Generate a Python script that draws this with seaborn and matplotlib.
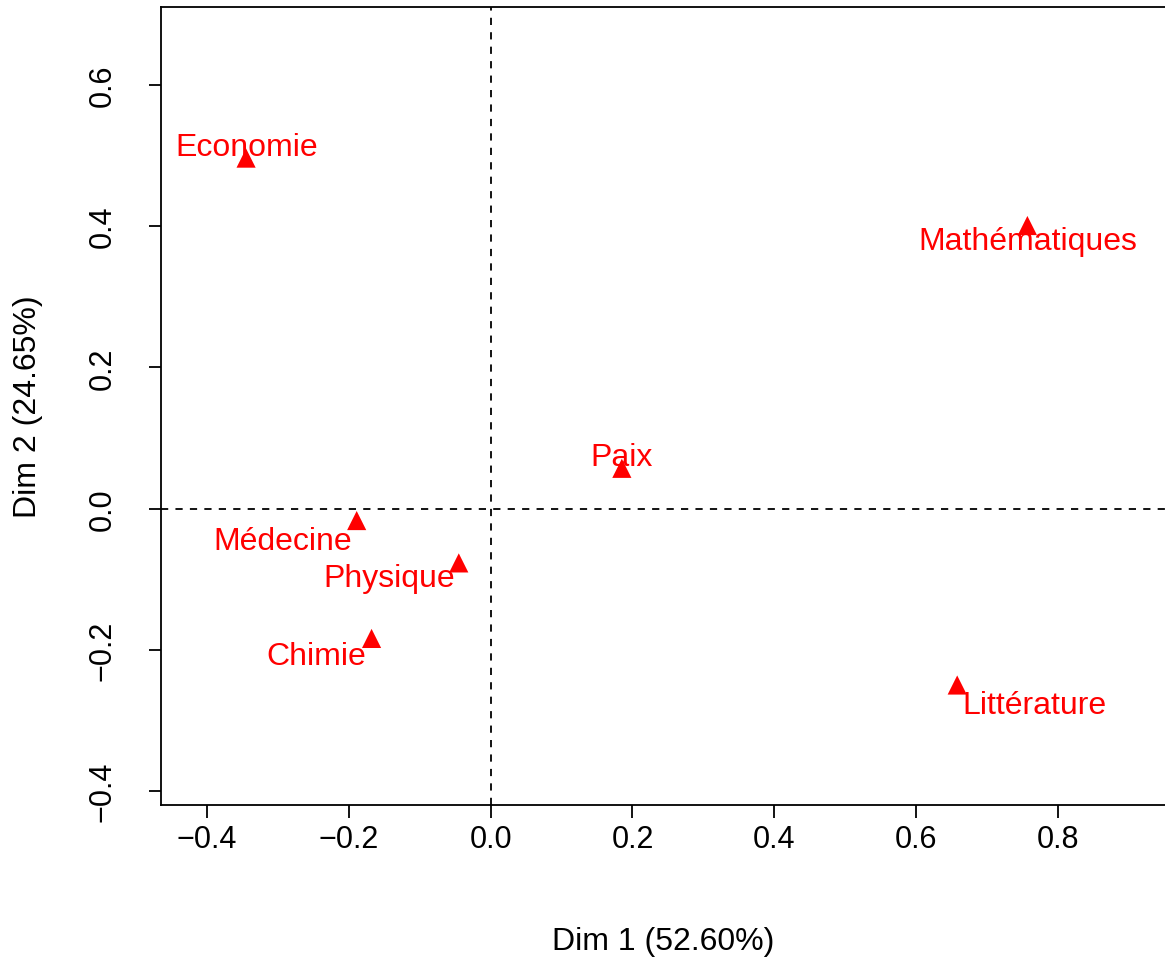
import matplotlib
matplotlib.use("Agg")
import matplotlib.pyplot as plt
import seaborn as sns
import pandas as pd

categories = ["Economie", "Mathématiques", "Paix", "Médecine", "Physique", "Chimie", "Littérature"]
dim1 = [-0.345, 0.757, 0.185, -0.189, -0.045, -0.168, 0.658]
dim2 = [0.4965, 0.401, 0.057, -0.017, -0.077, -0.184, -0.250]
x_ticks = [-0.4, -0.2, 0.0, 0.2, 0.4, 0.6, 0.8]
y_ticks = [-0.4, -0.2, 0.0, 0.2, 0.4, 0.6]
x_label = "Dim 1 (52.60%)"
y_label = "Dim 2 (24.65%)"

# label offsets (pixels) relative to the point
label_offsets = [(1, 11), (0, -15), (0, 11), (-74, -20), (-70, -15), (-55, -18), (77, -20)]

sns.set_style("ticks")
plt.rcParams["font.family"] = ["Liberation Sans", "DejaVu Sans"]

FS = 22
FS_LAB = 23
df = pd.DataFrame({"cat": categories, "d1": dim1, "d2": dim2})

fig = plt.figure(figsize=(11.65, 9.62), dpi=100)
W, H = 1165, 962
ax = fig.add_axes([161 / W, 1 - 806 / H, (1166 - 161) / W, (806 - 8) / H])

ax.axhline(0, color="black", linestyle=(0, (4, 4)), linewidth=1.3, zorder=1)
ax.axvline(0, color="black", linestyle=(0, (4, 4)), linewidth=1.3, zorder=1)

sns.scatterplot(data=df, x="d1", y="d2", marker="^", color="#FF0000", s=190,
                edgecolor="none", ax=ax, zorder=3, legend=False)

for cat, x, y, (dx, dy) in zip(categories, dim1, dim2, label_offsets):
    ax.annotate(cat, (x, y), xytext=(dx, dy), textcoords="offset pixels",
                ha="center", va="center", color="#FF0000", fontsize=FS_LAB)

ax.set_xlim(-0.465, 0.9525)
ax.set_ylim(-0.42, 0.7106)
ax.set_xticks(x_ticks)
ax.set_yticks(y_ticks)
ax.set_xticklabels([f"{v:.1f}".replace("-", "\u2212") for v in x_ticks], fontsize=FS)
ax.set_yticklabels([f"{v:.1f}".replace("-", "\u2212") for v in y_ticks], fontsize=FS,
                   rotation=90, va="center")
ax.tick_params(axis="both", direction="out", length=9, width=1.3, colors="black")
ax.tick_params(axis="x", pad=5)
ax.tick_params(axis="y", pad=22)
ax.set_xlabel(x_label, fontsize=FS_LAB, color="black", va="center")
ax.set_ylabel(y_label, fontsize=FS_LAB, color="black", va="center")
ax.xaxis.set_label_coords(0.5, (806 - 942) / 798)
ax.yaxis.set_label_coords((28 - 161) / 1005, 0.5)
for sp in ax.spines.values():
    sp.set_linewidth(1.3)
    sp.set_color("black")
    sp.set_visible(True)

fig.savefig("out.png", dpi=100)
